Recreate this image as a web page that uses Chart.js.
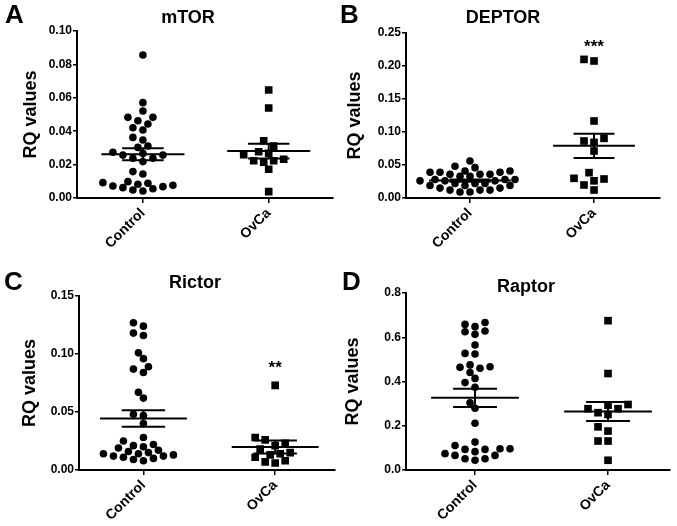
<!DOCTYPE html>
<html>
<head>
<meta charset="utf-8">
<script src="https://cdn.jsdelivr.net/npm/chart.js@4"></script>
<style>
    body { margin: 0; background: #fff; }
    #wrap { position: relative; width: 677px; height: 526px; }
    canvas { position: absolute; }
</style>
</head>
<body>
<div id="wrap">
    <canvas id="chartA" width="338" height="263" style="left:0;top:0"></canvas>
    <canvas id="chartB" width="340" height="263" style="left:337px;top:0"></canvas>
    <canvas id="chartC" width="340" height="263" style="left:0;top:263px"></canvas>
    <canvas id="chartD" width="340" height="263" style="left:337px;top:263px"></canvas>
</div>
<script>
const groups = ['Control', 'OvCa']

// mTOR
const mtorControl = [0.0856, 0.0571, 0.0521, 0.0483, 0.0463, 0.0483, 0.0443, 0.0421, 0.0407, 0.0363, 0.0347,
    0.0311, 0.0303, 0.0257, 0.0267, 0.0257, 0.0274, 0.0238, 0.0238, 0.0218, 0.0158, 0.0144, 0.0098, 0.0092,
    0.0088, 0.0082, 0.0076, 0.0072, 0.0068, 0.0062, 0.0055, 0.0048, 0.0042]
const mtorOvca = [0.0647, 0.0539, 0.0343, 0.0311, 0.0277, 0.0267, 0.0260, 0.0223, 0.0214, 0.0223, 0.0232, 0.0172, 0.0038]
const mtorMean = [0.0262, 0.0281]
const mtorSem = [0.0036, 0.0044]
const mtorTicks = ['0.00', '0.02', '0.04', '0.06', '0.08', '0.10']

// DEPTOR
const deptorControl = [0.056, 0.048, 0.046, 0.041, 0.041, 0.039, 0.039, 0.039, 0.036, 0.036, 0.036, 0.033,
    0.033, 0.028, 0.028, 0.028, 0.026, 0.026, 0.026, 0.022, 0.022, 0.022, 0.019, 0.019, 0.019, 0.015,
    0.015, 0.012, 0.012, 0.012, 0.009, 0.009]
const deptorOvca = [0.210, 0.2076, 0.1167, 0.0904, 0.0864, 0.0843, 0.0712, 0.0384, 0.0298, 0.026, 0.0288, 0.0197, 0.0121]
const deptorMean = [0.0264, 0.0790]
const deptorSem = [0.0018, 0.0185]
const deptorTicks = ['0.00', '0.05', '0.10', '0.15', '0.20', '0.25']
const deptorStars = '***'
const deptorStarLevel = 0.237

// Rictor
const rictorControl = [0.127, 0.124, 0.118, 0.116, 0.101, 0.096, 0.087, 0.089, 0.084, 0.067, 0.062, 0.047,
    0.048, 0.040, 0.028, 0.025, 0.022, 0.021, 0.020, 0.019, 0.017, 0.016, 0.015, 0.014, 0.014, 0.013,
    0.012, 0.012, 0.011, 0.010, 0.009, 0.008]
const rictorOvca = [0.073, 0.023, 0.021, 0.026, 0.028, 0.018, 0.014, 0.013, 0.008, 0.006, 0.007, 0.011, 0.015]
const rictorMean = [0.0444, 0.0198]
const rictorSem = [0.0072, 0.0056]
const rictorTicks = ['0.00', '0.05', '0.10', '0.15']
const rictorStars = '**'
const rictorStarLevel = 0.092

// Raptor
const raptorControl = [0.648, 0.625, 0.667, 0.613, 0.628, 0.658, 0.565, 0.524, 0.527, 0.467, 0.460, 0.441,
    0.464, 0.475, 0.414, 0.395, 0.374, 0.304, 0.279, 0.211, 0.083, 0.066, 0.111, 0.093, 0.096, 0.126,
    0.093, 0.096, 0.051, 0.044, 0.051, 0.066, 0.074]
const raptorOvca = [0.675, 0.436, 0.296, 0.277, 0.259, 0.251, 0.277, 0.293, 0.195, 0.176, 0.131, 0.131, 0.044]
const raptorMean = [0.326, 0.264]
const raptorSem = [0.041, 0.043]
const raptorTicks = ['0.0', '0.2', '0.4', '0.6', '0.8']

const FONT = '"Liberation Sans", Arial, sans-serif'
Chart.defaults.font.family = FONT
Chart.defaults.color = '#000'

// letters, titles and significance stars
const panelText = {
    id: 'panelText',
    afterDraw(chart, args, opts) {
        let ctx = chart.ctx
        ctx.save()
        ctx.fillStyle = '#000'
        ctx.textBaseline = 'alphabetic'
        ctx.textAlign = 'left'
        ctx.font = 'bold 26px ' + FONT
        ctx.fillText(opts.letter, opts.letterX, opts.letterY)
        ctx.textAlign = 'center'
        ctx.font = 'bold 18px ' + FONT
        ctx.fillText(opts.title, opts.titleX, opts.titleY)
        if (opts.stars) {
            let px = chart.scales.x.getPixelForValue(2)
            let py = chart.scales.y.getPixelForValue(opts.starLevel)
            ctx.font = 'bold 17px ' + FONT
            ctx.fillText(opts.stars, px, py + 10)
        }
        ctx.restore()
    }
}

function summaryLines(mean, sem) {
    let pts = []
    mean.forEach((m, i) => {
        let x = i + 1
        let s = sem[i]
        pts.push({x: x - 0.33, y: m}, {x: x + 0.33, y: m}, {x: x, y: null})
        pts.push({x: x - 0.165, y: m + s}, {x: x + 0.165, y: m + s}, {x: x, y: null})
        pts.push({x: x - 0.165, y: m - s}, {x: x + 0.165, y: m - s}, {x: x, y: null})
        pts.push({x: x, y: m - s}, {x: x, y: m + s}, {x: x, y: null})
    })
    return pts
}

// beeswarm: each point goes to the slot nearest the centre where it does not hit one already placed
function spread(chart, center, values, minGap) {
    let xs = chart.scales.x
    let ys = chart.scales.y
    let ppu = xs.getPixelForValue(2) - xs.getPixelForValue(1)
    let step = 5
    let placed = []
    let out = new Array(values.length)
    let order = values.map((v, i) => i).sort((a, b) => values[a] - values[b])
    order.forEach(i => {
        let py = ys.getPixelForValue(values[i])
        let dx = 0
        for (let k = 0; k < 60; k++) {
            dx = (k % 2 ? -1 : 1) * Math.ceil(k / 2) * step
            let ok = placed.every(p => (dx - p.dx) ** 2 + (py - p.py) ** 2 >= minGap * minGap)
            if (ok) break
        }
        placed.push({dx: dx, py: py})
        out[i] = {x: center + dx / ppu, y: values[i]}
    })
    return out
}

function createPanel(id, p) {
    let canvas = document.getElementById(id)
    let W = canvas.width
    let H = canvas.height
    let tickValues = p.ticks.map(t => parseFloat(t))
    let decimals = p.ticks[0].split('.')[1].length

    let chart = new Chart(canvas, {
        type: 'scatter',
        data: {
            datasets: [
                {
                    data: p.control.map(v => ({x: 1, y: v})),
                    pointStyle: 'circle',
                    pointRadius: 3.8,
                    pointBorderWidth: 0,
                    backgroundColor: '#000',
                    borderColor: '#000'
                },
                {
                    data: p.ovca.map(v => ({x: 2, y: v})),
                    pointStyle: 'rect',
                    pointRadius: 5.4,
                    pointBorderWidth: 0,
                    backgroundColor: '#000',
                    borderColor: '#000'
                },
                {
                    type: 'line',
                    data: summaryLines(p.mean, p.sem),
                    borderColor: '#000',
                    borderWidth: 2,
                    pointRadius: 0,
                    spanGaps: false,
                    fill: false
                }
            ]
        },
        options: {
            responsive: false,
            animation: false,
            events: [],
            layout: {
                padding: {left: 0, top: p.top, right: W - p.right, bottom: 0}
            },
            plugins: {
                legend: {display: false},
                tooltip: {enabled: false},
                panelText: {
                    letter: p.letter, letterX: p.letterX, letterY: p.letterY,
                    title: p.title, titleX: p.titleX, titleY: p.titleY,
                    stars: p.stars, starLevel: p.starLevel
                }
            },
            scales: {
                x: {
                    type: 'linear',
                    min: p.xMin,
                    max: p.xMax,
                    afterBuildTicks: scale => { scale.ticks = [{value: 1}, {value: 2}] },
                    afterFit: scale => { scale.height = H - p.bottom },
                    ticks: {
                        callback: v => groups[v - 1],
                        minRotation: 45,
                        maxRotation: 45,
                        padding: 2,
                        color: '#000',
                        font: {size: 14, weight: 'bold'}
                    },
                    grid: {drawOnChartArea: false, drawTicks: true, tickLength: 5, color: '#000', lineWidth: 1.5},
                    border: {display: true, color: '#000', width: 2}
                },
                y: {
                    min: tickValues[0],
                    max: tickValues[tickValues.length - 1],
                    afterBuildTicks: scale => { scale.ticks = tickValues.map(v => ({value: v})) },
                    afterFit: scale => { scale.width = p.left },
                    ticks: {
                        callback: v => v.toFixed(decimals),
                        padding: 1,
                        color: '#000',
                        font: {size: 12, weight: 'bold'}
                    },
                    grid: {drawOnChartArea: false, drawTicks: true, tickLength: 4, color: '#000', lineWidth: 1.5},
                    border: {display: true, color: '#000', width: 2},
                    title: {
                        display: true,
                        text: 'RQ values',
                        color: '#000',
                        font: {size: 18, weight: 'bold'},
                        padding: {top: p.titlePad, bottom: 0}
                    }
                }
            }
        },
        plugins: [panelText]
    })

    chart.data.datasets[0].data = spread(chart, 1, p.control, 7.2)
    chart.data.datasets[1].data = spread(chart, 2, p.ovca, 8.4)
    chart.update('none')
}

createPanel('chartA', {
    control: mtorControl, ovca: mtorOvca, mean: mtorMean, sem: mtorSem, ticks: mtorTicks,
    left: 77, right: 333, top: 31, bottom: 198, xMin: 0.476, xMax: 2.508, titlePad: 20,
    letter: 'A', letterX: 5, letterY: 23, title: 'mTOR', titleX: 188, titleY: 23
})
createPanel('chartB', {
    control: deptorControl, ovca: deptorOvca, mean: deptorMean, sem: deptorSem, ticks: deptorTicks,
    left: 69, right: 323, top: 33, bottom: 198, xMin: 0.484, xMax: 2.532, titlePad: 7,
    letter: 'B', letterX: 3, letterY: 23, title: 'DEPTOR', titleX: 166, titleY: 23,
    stars: deptorStars, starLevel: deptorStarLevel
})
createPanel('chartC', {
    control: rictorControl, ovca: rictorOvca, mean: rictorMean, sem: rictorSem, ticks: rictorTicks,
    left: 79, right: 337, top: 33, bottom: 207, xMin: 0.511, xMax: 2.451, titlePad: 19,
    letter: 'C', letterX: 4, letterY: 27, title: 'Rictor', titleX: 195, titleY: 25,
    stars: rictorStars, starLevel: rictorStarLevel
})
createPanel('chartD', {
    control: raptorControl, ovca: raptorOvca, mean: raptorMean, sem: raptorSem, ticks: raptorTicks,
    left: 69, right: 333, top: 30, bottom: 207, xMin: 0.481, xMax: 2.466, titlePad: 5,
    letter: 'D', letterX: 5, letterY: 27, title: 'Raptor', titleX: 189, titleY: 29
})
</script>
</body>
</html>
